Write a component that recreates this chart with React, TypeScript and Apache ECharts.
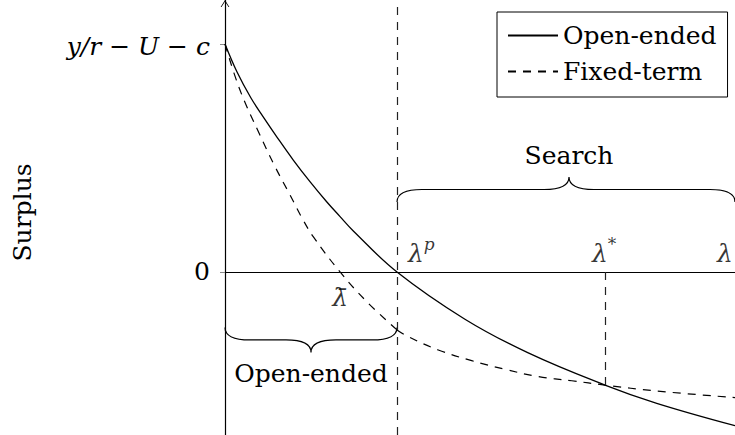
import React, { useEffect, useRef } from 'react';
import * as echarts from 'echarts';

// ---- data ----
const lambdaP = 1.0;
const lambdaStar = 2.209;
const lambdaBar = 0.669;
const lambdaMax = 2.965;
const starSurplus = -0.496;
const yMin = -0.715;
const yMax = 1.193;

const yTickValues = [0, 1];
const yTickLabels = ['0', 'y/r − U − c'];

const openEnded: [number, number][] = [
  [0, 1.0], [0.07, 0.877], [0.151, 0.763], [0.227, 0.675], [0.301, 0.593],
  [0.397, 0.491], [0.494, 0.396], [0.591, 0.308], [0.669, 0.243], [0.746, 0.18],
  [1.0, 0.0], [1.395, -0.207], [1.763, -0.355], [2.209, -0.496], [2.51, -0.576],
  [2.965, -0.674],
];

const fixedTermBelow: [number, number][] = [
  [0, 1.0], [0.087, 0.798], [0.203, 0.601], [0.291, 0.462], [0.378, 0.338],
  [0.452, 0.231], [0.513, 0.155], [0.669, 0.0], [0.824, -0.13], [1.0, -0.254],
];
const fixedTermAbove: [number, number][] = [
  [1.0, -0.254], [1.066, -0.284], [1.24, -0.342], [1.434, -0.389], [1.628, -0.427],
  [1.822, -0.459], [2.016, -0.477], [2.209, -0.496], [2.51, -0.522], [2.965, -0.551],
];

const seriesNames = ['Open-ended', 'Fixed-term'];
const braceLabels = ['Search', 'Open-ended'];
// [from, to, level, direction(-1 up / +1 down)]
const braces: number[][] = [
  [lambdaP, lambdaMax, 0.307, -1],
  [0, lambdaP, -0.243, 1],
];

const SERIF = '"DejaVu Serif", serif';

export default function App() {
  const ref = useRef<HTMLDivElement>(null);
  useEffect(() => {
    if (!ref.current) return;
    const chart = echarts.init(ref.current, undefined, { renderer: 'svg' });
    const mathRich = {
      m: { fontFamily: SERIF, fontStyle: 'italic', fontSize: 25, lineHeight: 30, color: '#000', verticalAlign: 'bottom' },
      s: { fontFamily: SERIF, fontStyle: 'italic', fontSize: 17, lineHeight: 17, color: '#000', verticalAlign: 'top' },
      n: { fontFamily: SERIF, fontSize: 25, lineHeight: 30, color: '#000' },
    };
    const dash = [8, 7];
    const option: any = {
      animation: false,
      grid: { left: 225, right: 0, top: 0, bottom: 0, containLabel: false, outerBoundsMode: 'none' },
      legend: {
        data: seriesNames,
        orient: 'vertical',
        left: 497,
        top: 12,
        padding: [11, 11, 13, 10],
        itemGap: 11,
        itemWidth: 50,
        itemHeight: 14,
        selectedMode: false,
        borderColor: '#000',
        borderWidth: 1,
        backgroundColor: '#fff',
        itemStyle: { opacity: 0 },
        textStyle: { fontFamily: SERIF, fontSize: 25, lineHeight: 25, color: '#000' },
      },
      xAxis: {
        type: 'value',
        min: 0,
        max: lambdaMax,
        axisLine: { show: true, onZero: true, lineStyle: { color: '#000', width: 1.2 } },
        axisTick: { show: false },
        axisLabel: { show: false },
        splitLine: { show: false },
      },
      yAxis: {
        type: 'value',
        min: yMin,
        max: yMax,
        axisLine: {
          show: true,
          onZero: false,
          lineStyle: { color: '#000', width: 1.2 },
          symbol: ['none', 'path://M5,0 L10,8 L9,8 L5,1.8 L1,8 L0,8 Z'],
          symbolSize: [9, 7],
          symbolOffset: [0, -3.5],
        },
        axisTick: { show: true, customValues: yTickValues, length: 5, lineStyle: { color: '#888', width: 1 } },
        axisLabel: {
          show: true,
          customValues: yTickValues,
          margin: 15,
          formatter: (v: number) => {
            const i = yTickValues.indexOf(v);
            return i === 1 ? '{m|' + yTickLabels[i] + '}' : '{n|' + yTickLabels[0] + '}';
          },
          rich: mathRich,
        },
        splitLine: { show: false },
        name: 'Surplus',
        nameLocation: 'middle',
        nameRotate: 90,
        nameGap: 190,
        nameTextStyle: { fontFamily: SERIF, fontSize: 25, color: '#000', padding: [0, 0, 0, 10] },
      },
      series: [
        {
          name: seriesNames[0],
          type: 'line',
          data: openEnded,
          smooth: 0.4,
          symbol: 'none',
          silent: true,
          lineStyle: { color: '#000', width: 1.3, type: 'solid' },
          itemStyle: { color: '#000' },
          z: 3,
          markLine: {
            silent: true,
            symbol: ['none', 'none'],
            label: { show: false },
            lineStyle: { type: dash, color: '#222', width: 1.2 },
            data: [
              { xAxis: lambdaP },
              [{ coord: [lambdaStar, 0] }, { coord: [lambdaStar, starSurplus] }],
            ],
          },
        },
        {
          name: seriesNames[1],
          type: 'line',
          data: [...fixedTermBelow, null, ...fixedTermAbove],
          connectNulls: false,
          smooth: 0.4,
          symbol: 'none',
          silent: true,
          lineStyle: { color: '#000', width: 1.2, type: dash },
          itemStyle: { color: '#000' },
          z: 3,
        },
        {
          type: 'scatter',
          silent: true,
          symbolSize: 0,
          z: 5,
          label: { show: true, rich: mathRich, verticalAlign: 'middle' },
          data: [
            { value: [lambdaP, 0], label: { formatter: '{m|λ}{s|p}', position: [11, -21], align: 'left' } },
            { value: [lambdaStar, 0], label: { formatter: '{m|λ}{s|*}', position: [-13, -21], align: 'left' } },
            { value: [lambdaMax, 0], label: { formatter: '{m|λ}', position: [-18, -21], align: 'left' } },
            { value: [lambdaBar, 0], label: { formatter: '{m|λ\u0304}', position: [0, 23], align: 'center' } },
          ],
        },
        {
          type: 'custom',
          silent: true,
          clip: false,
          z: 4,
          data: braces,
          renderItem: (params: any, api: any) => {
            const x1 = api.value(0);
            const x2 = api.value(1);
            const lv = api.value(2);
            const dir = api.value(3);
            const p1 = api.coord([x1, lv]);
            const p2 = api.coord([x2, lv]);
            const y0 = p1[1];
            const xa = p1[0];
            const xb = p2[0];
            const xm = (xa + xb) / 2 + (dir < 0 ? 3 : 0);
            const h = 12.5 * dir;
            const w = 25;
            const d =
              `M${xa},${y0} Q${xa},${y0 + h} ${xa + w},${y0 + h} L${xm - w},${y0 + h} ` +
              `Q${xm},${y0 + h} ${xm},${y0 + 2 * h} Q${xm},${y0 + h} ${xm + w},${y0 + h} ` +
              `L${xb - w},${y0 + h} Q${xb},${y0 + h} ${xb},${y0}`;
            return {
              type: 'group',
              children: [
                { type: 'path', shape: { pathData: d }, style: { stroke: '#000', fill: 'none', lineWidth: 1.2 } },
                {
                  type: 'text',
                  x: xm,
                  y: y0 + dir * 46,
                  style: {
                    text: braceLabels[params.dataIndex],
                    fontFamily: SERIF,
                    fontSize: 25,
                    fill: '#000',
                    align: 'center',
                    verticalAlign: 'middle',
                  },
                },
              ],
            };
          },
        },
      ],
    };
    chart.setOption(option);
    return () => chart.dispose();
  }, []);
  return (
    <div
      ref={ref}
      style={{ position: 'absolute', left: 0, top: 0, width: 735, height: 435, background: '#fff' }}
    />
  );
}
